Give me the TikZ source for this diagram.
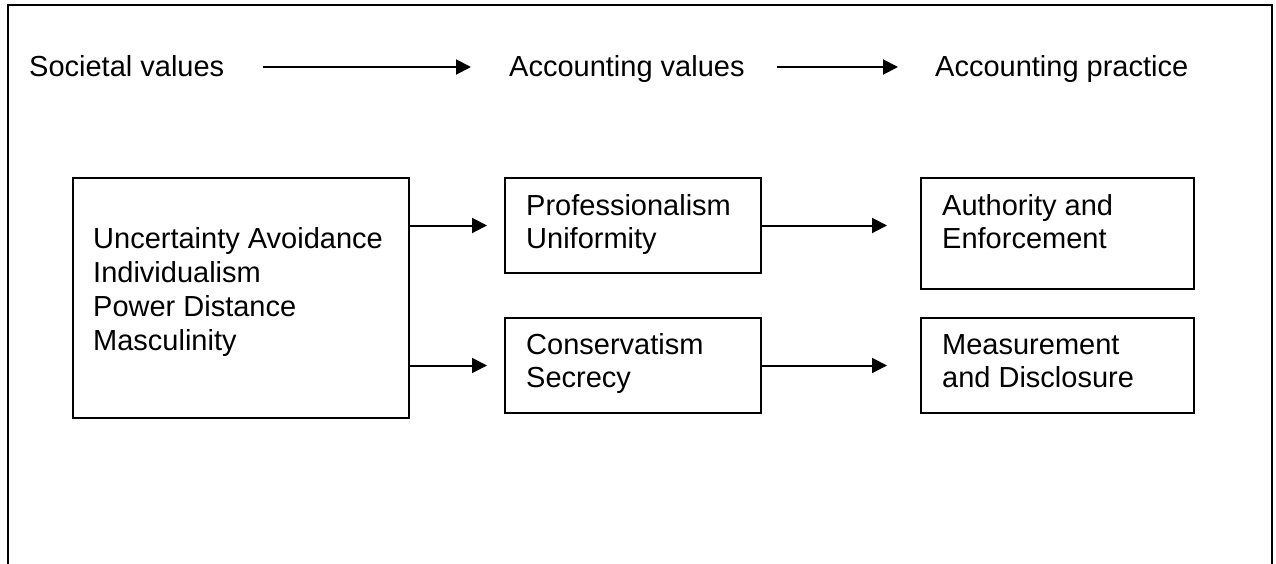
\documentclass[tikz,border=0pt]{standalone}
\usepackage{fontspec}
\setmainfont{Liberation Sans}
\usetikzlibrary{arrows.meta}
\newcommand{\mylines}[1]{\begin{tabular}[t]{@{}l@{}}#1\end{tabular}}
\begin{document}
\begin{tikzpicture}[x=1pt,y=-1pt,
  frameline/.style={line width=2.2pt},
  boxnode/.style={draw,line width=2pt,inner sep=0pt,anchor=north west},
  txt/.style={inner sep=0pt,anchor=base west,font=\fontsize{29}{33.5}\selectfont},
  head/.style={txt,text height=20pt,text depth=0pt},
  arr/.style={line width=2pt,-{Triangle[length=15pt,width=15pt]}}]
\useasboundingbox (0,0) rectangle (1276,564);
\draw[frameline] (8,564) -- (8,5) -- (1272,5) -- (1272,564);
% top row
\node[head] (t1) at (29,77) {Societal values};
\node[head] (t2) at (509,77) {Accounting values};
\node[head] (t3) at (935,77) {Accounting practice};
\draw[arr,shorten <=39pt,shorten >=38pt] (t1.east) -- (t2.west);
\draw[arr,shorten <=32pt,shorten >=37pt] (t2.east) -- (t3.west);
% boxes
\node[boxnode,minimum width=336pt,minimum height=240pt] (soc) at (72,177) {};
\node[boxnode,minimum width=256pt,minimum height=95pt] (prof) at (504,177) {};
\node[boxnode,minimum width=256pt,minimum height=95pt] (cons) at (504,317) {};
\node[boxnode,minimum width=273pt,minimum height=111pt] (auth) at (920,177) {};
\node[boxnode,minimum width=273pt,minimum height=95pt] (meas) at (920,317) {};
% texts
\node[txt,font=\fontsize{29}{34}\selectfont] (socT) at (93,248) {\mylines{Uncertainty Avoidance\\Individualism\\Power Distance\\Masculinity}};
\node[txt] (profT) at (526,215) {\mylines{Professionalism\\Uniformity}};
\node[txt] (consT) at (526,354) {\mylines{Conservatism\\Secrecy}};
\node[txt] (authT) at (942,215) {\mylines{Authority and\\Enforcement}};
\node[txt] (measT) at (942,354) {\mylines{Measurement\\and Disclosure}};
% connectors
\draw[arr,shorten >=17pt] (soc.east |- prof.west) -- (prof.west);
\draw[arr,shorten >=17pt] (soc.east |- cons.west) -- (cons.west);
\draw[arr,shorten >=33pt] (prof.east) -- (prof.east -| auth.west);
\draw[arr,shorten >=33pt] (cons.east) -- (cons.east -| meas.west);
\end{tikzpicture}
\end{document}
